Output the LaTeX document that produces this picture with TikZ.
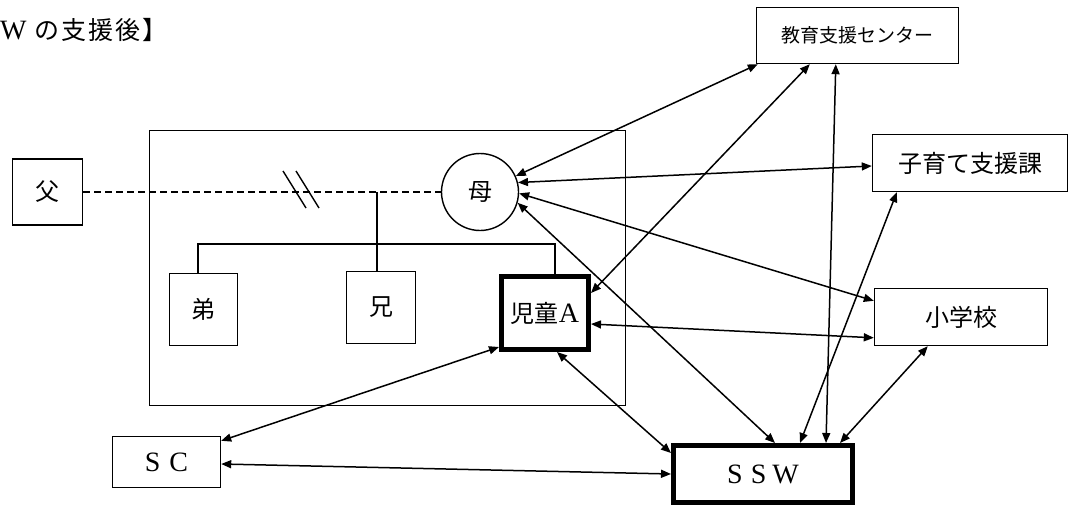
\documentclass[tikz,border=0pt]{standalone}
\usepackage{fontspec}
\setmainfont{Noto Sans CJK JP}
\newfontfamily\lat{Liberation Serif}
\usetikzlibrary{arrows.meta,calc}
\begin{document}
\begin{tikzpicture}[x=1pt,y=-1pt,
  txt/.style={font=\fontsize{24}{28}\selectfont},
  box/.style={draw,line width=1.4pt,rectangle,inner sep=0pt,txt},
  keybox/.style={box,line width=5pt},
  link/.style={line width=1.5pt,{Triangle[length=10pt,width=8pt]}-{Triangle[length=10pt,width=8pt]}},
  tie/.style={line width=1.4pt},
]
\useasboundingbox (0,0) rectangle (1070,524);

% heading
\node[font=\fontsize{25}{28}\selectfont,anchor=west,inner sep=0pt] (title) at (0,30)
  {{\lat\fontsize{28}{30}\selectfont W}\hspace{8pt}\addfontfeature{LetterSpace=8}の支援後】};

% household frame
\node[draw,line width=1.4pt,minimum width=476pt,minimum height=275pt,inner sep=0pt] (family) at (387.5,268) {};

% family members
\node[box,minimum width=70pt,minimum height=66pt] (father) at (47.5,192) {父};
\node[circle,draw,line width=1.4pt,minimum size=77pt,inner sep=0pt,txt] (mother) at (480,192) {母};
\node[box,minimum width=68pt,minimum height=72pt] (younger) at (203.5,309.5) {弟};
\node[box,minimum width=69pt,minimum height=72pt] (elder) at (381,307.5) {兄};
\node[keybox,minimum width=87pt,minimum height=73pt] (child) at (545,313) {児童{\lat\fontsize{28}{30}\selectfont A}};

% support agencies
\node[box,font=\fontsize{19}{22}\selectfont,minimum width=202pt,minimum height=56pt] (edu) at (857.5,35.5) {教育支援センター};
\node[box,minimum width=195pt,minimum height=57pt] (kosodate) at (970,163) {子育て支援課};
\node[box,minimum width=173pt,minimum height=57pt] (school) at (961,317) {小学校};
\node[box,font=\fontsize{28}{30}\selectfont,minimum width=108pt,minimum height=51pt] (sc) at (166.5,462) {{\lat S\hspace{9pt}C}};
\node[keybox,font=\fontsize{28}{30}\selectfont,minimum width=179pt,minimum height=57pt] (ssw) at (763,474) {{\lat S\hspace{8pt}S\hspace{6pt}W}};

% family ties
\draw[tie,dash pattern=on 7pt off 4pt] (father.east) -- (mother.west);
\draw[tie] (283,171) -- (306,208);
\draw[tie] (296,171) -- (319,208);
\draw[tie] ([xshift=-4pt]elder.north) -- ([xshift=-4pt]elder.north |- father.east);
\draw[tie] ([xshift=-5.5pt]younger.north) -- ++(0,-29) -| ([xshift=10pt]child.north);

% support links
\draw[link] ([xshift=2pt]edu.south west) -- (mother.24);
\draw[link] ([xshift=54pt]edu.south west) -- ([yshift=-19pt]child.north east);
\draw[link] ([xshift=80pt]edu.south west) -- ([xshift=155pt]ssw.north west);
\draw[link] (mother.14) -- ([yshift=-3pt]kosodate.west);
\draw[link] (mother.-2) -- ([yshift=-13pt]school.north west);
\draw[link] (mother.-16) -- ([xshift=104pt]ssw.north west);
\draw[link] ([yshift=-50pt]child.north east) -- ([yshift=-50pt]school.north west);
\draw[link] ([xshift=25pt]kosodate.south west) -- ([xshift=129pt]ssw.north west);
\draw[link] ([xshift=54pt]school.south west) -- ([xshift=169pt]ssw.north west);
\draw[link] ([xshift=58pt]child.south west) -- ([yshift=-10pt]ssw.north west);
\draw[link] ([yshift=-5pt]sc.north east) -- ([yshift=5pt]child.south west);
\draw[link] ([yshift=-2pt]sc.east) -- (ssw.west);
\end{tikzpicture}
\end{document}
